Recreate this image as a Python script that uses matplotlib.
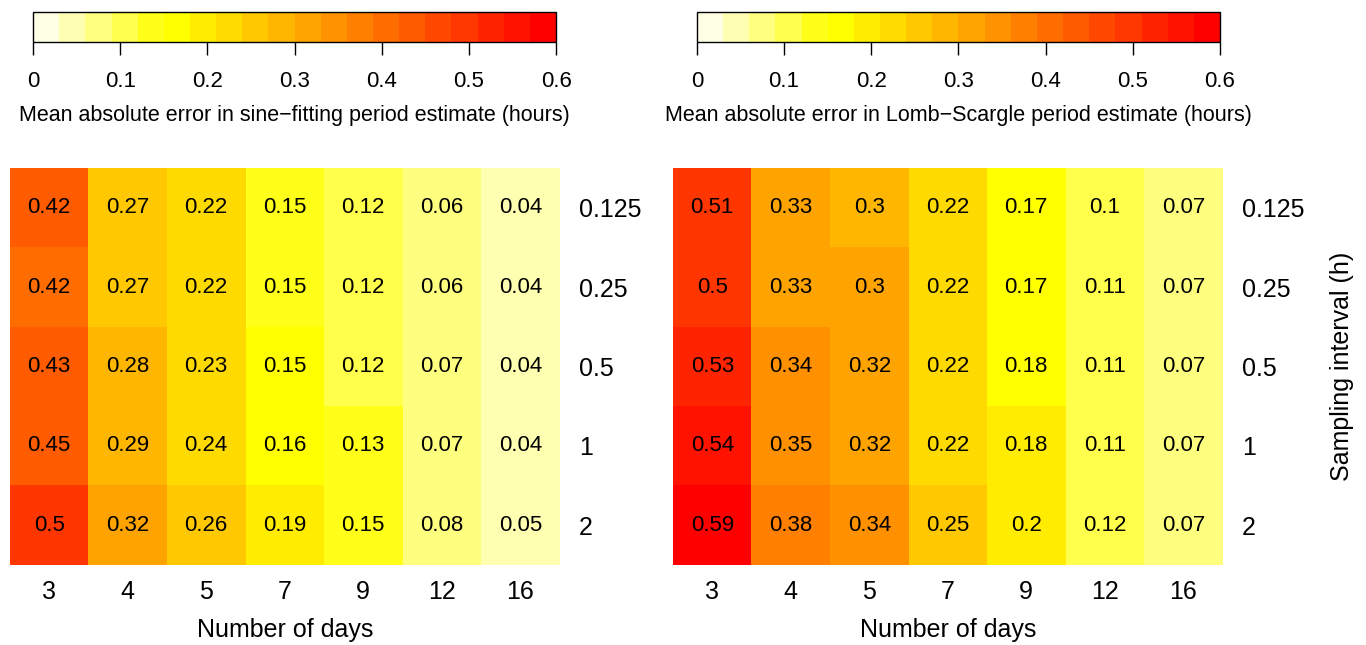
import numpy as np
import matplotlib
matplotlib.use("Agg")
import matplotlib.pyplot as plt
from matplotlib.colors import ListedColormap, BoundaryNorm, hsv_to_rgb
from matplotlib.cm import ScalarMappable

plt.rcParams["font.family"] = ["Liberation Sans", "DejaVu Sans"]

days = [3, 4, 5, 7, 9, 12, 16]
intervals = ["0.125", "0.25", "0.5", "1", "2"]

# rows = sampling interval, columns = number of days
sine_err = [
    [0.421, 0.269, 0.22, 0.149, 0.119, 0.061, 0.04],
    [0.419, 0.269, 0.22, 0.149, 0.119, 0.061, 0.04],
    [0.43, 0.28, 0.23, 0.151, 0.119, 0.07, 0.04],
    [0.449, 0.29, 0.239, 0.16, 0.13, 0.07, 0.04],
    [0.5, 0.32, 0.26, 0.19, 0.149, 0.08, 0.05],
]
lomb_err = [
    [0.509, 0.329, 0.299, 0.22, 0.17, 0.1, 0.07],
    [0.5, 0.329, 0.301, 0.22, 0.17, 0.11, 0.07],
    [0.53, 0.34, 0.32, 0.22, 0.179, 0.11, 0.07],
    [0.541, 0.35, 0.32, 0.22, 0.181, 0.11, 0.07],
    [0.59, 0.38, 0.34, 0.25, 0.2, 0.119, 0.07],
]
cbar_ticks = [0, 0.1, 0.2, 0.3, 0.4, 0.5, 0.6]

# R's heat.colors(20), reversed (cream -> red)
n_red = 15
hsv = [(h, 1, 1) for h in np.linspace(0, 1 / 6, n_red)]
hsv += [(1 / 6, s, 1) for s in np.linspace(0.9, 0.1, 5)]
heat = [hsv_to_rgb(c) for c in hsv][::-1]
cmap = ListedColormap(heat)
norm = BoundaryNorm(np.linspace(0, 0.6, 21), cmap.N)

fig = plt.figure(figsize=(13.66, 6.45), dpi=100)

panels = [
    (sine_err, "Mean absolute error in sine\u2212fitting period estimate (hours)", 0.0073, 0.0242, False),
    (lomb_err, "Mean absolute error in Lomb\u2212Scargle period estimate (hours)", 0.4927, 0.5102, True),
]

for data, cb_label, hx, cx, show_ylabel in panels:
    vals = np.array(data)
    ax = fig.add_axes([hx, 0.124, 0.4023, 0.6155])
    ax.imshow(vals, cmap=cmap, norm=norm, aspect="auto")
    for i in range(vals.shape[0]):
        for j in range(vals.shape[1]):
            ax.text(j, i, "%g" % round(vals[i, j], 2), ha="center", va="center",
                    fontsize=16, color="black")
    for s in ax.spines.values():
        s.set_visible(False)
    ax.set_xticks(range(len(days)))
    ax.set_xticklabels([str(d) for d in days], fontsize=18)
    ax.yaxis.tick_right()
    ax.set_yticks(range(len(intervals)))
    ax.set_yticklabels(intervals, fontsize=18)
    ax.tick_params(length=0)
    ax.tick_params(axis="x", pad=11)
    ax.tick_params(axis="y", pad=14)
    ax.set_xlabel("Number of days", fontsize=18, labelpad=10)
    if show_ylabel:
        ax.yaxis.set_label_position("right")
        ax.set_ylabel("Sampling interval (h)", fontsize=18, labelpad=18)

    cax = fig.add_axes([cx, 0.9349, 0.3829, 0.0465])
    cb = fig.colorbar(ScalarMappable(norm=norm, cmap=cmap), cax=cax,
                      orientation="horizontal", ticks=cbar_ticks)
    cb.ax.minorticks_off()
    cb.ax.set_xticklabels(["%g" % t for t in cbar_ticks])
    cb.ax.tick_params(length=9, width=1, pad=12, labelsize=16)
    cb.outline.set_linewidth(1)
    cb.set_label(cb_label, fontsize=15.5, labelpad=9)

fig.savefig("out.png", dpi=100)
